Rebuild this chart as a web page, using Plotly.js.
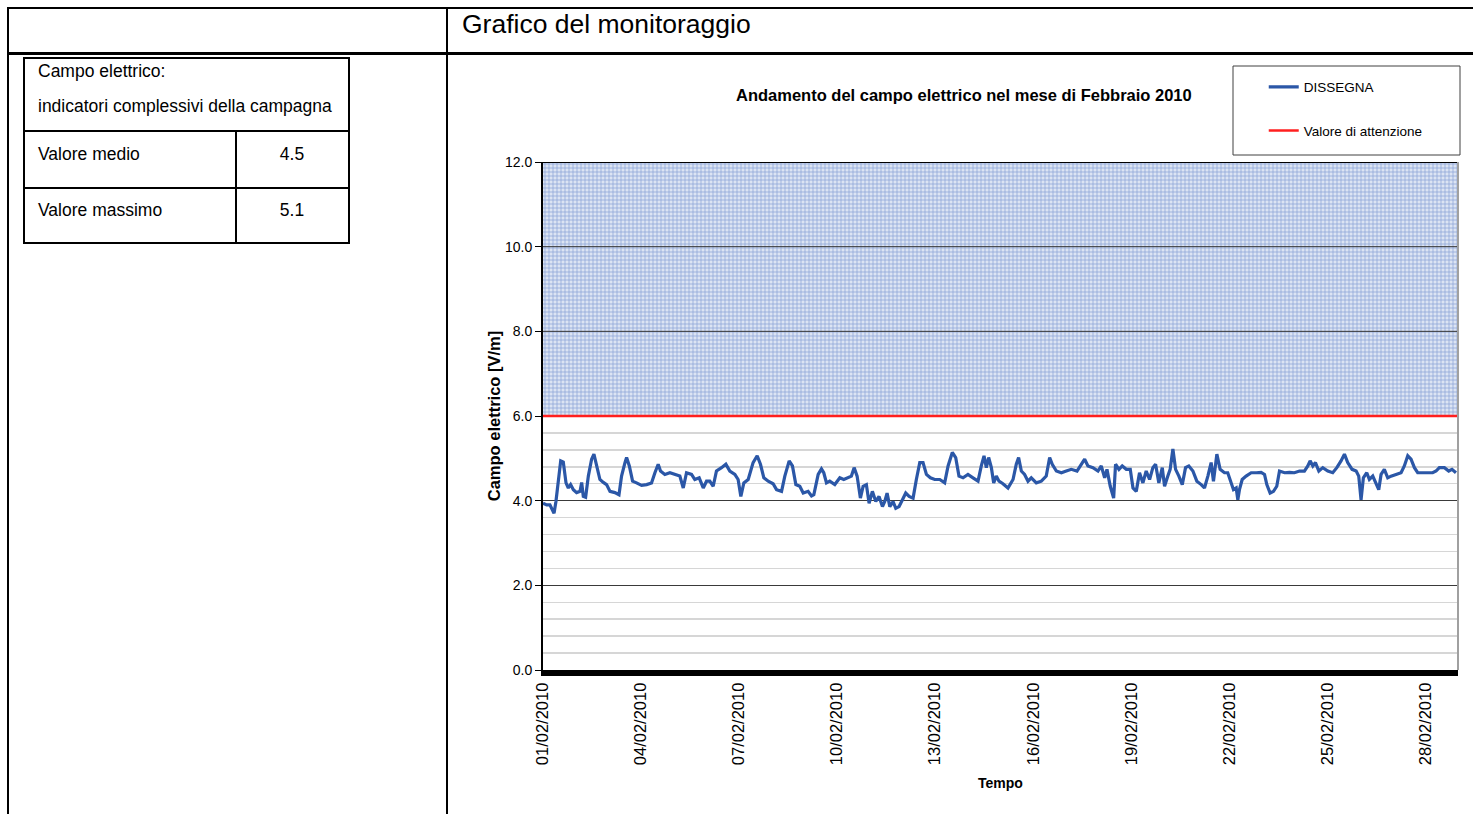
<!DOCTYPE html>
<html>
<head>
<meta charset="utf-8">
<script src="https://cdn.plot.ly/plotly-3.0.1.min.js"></script>
<style>
  html, body { margin:0; padding:0; background:#fff; }
  #wrap { position:relative; width:1473px; height:814px; overflow:hidden; }
  #chart { position:absolute; left:0; top:0; width:1473px; height:814px; }
  #overlay { position:absolute; left:0; top:0; width:1473px; height:814px; pointer-events:none; z-index:10;
             font-family:'Liberation Sans', Arial, sans-serif; color:#000; }
  .ln { position:absolute; background:#000; }
  .tx { position:absolute; white-space:nowrap; transform:translateY(-50%); font-size:17.5px; }
  .c { transform:translate(-50%,-50%); }
</style>
</head>
<body>
<div id="wrap">
  <div id="chart"></div>
  <div id="overlay">
    <!-- page frame -->
    <div class="ln" style="left:7px; top:7px; width:1466px; height:2px;"></div>
    <div class="ln" style="left:7px; top:52px; width:1466px; height:3px;"></div>
    <div class="ln" style="left:7px; top:7px; width:2px; height:807px;"></div>
    <div class="ln" style="left:446px; top:7px; width:2px; height:807px;"></div>
    <div class="tx" style="left:462px; top:24px; font-size:26.5px;">Grafico del monitoraggio</div>
    <!-- summary table -->
    <div class="ln" style="left:23px; top:57px; width:327px; height:2px;"></div>
    <div class="ln" style="left:23px; top:242px; width:327px; height:2px;"></div>
    <div class="ln" style="left:23px; top:57px; width:2px; height:187px;"></div>
    <div class="ln" style="left:348px; top:57px; width:2px; height:187px;"></div>
    <div class="ln" style="left:23px; top:130px; width:327px; height:2px;"></div>
    <div class="ln" style="left:23px; top:187px; width:327px; height:2px;"></div>
    <div class="ln" style="left:235px; top:130px; width:2px; height:113px;"></div>
    <div class="tx" id="t_h1" style="left:38px; top:71px;"></div>
    <div class="tx" id="t_h2" style="left:38px; top:106px;"></div>
    <div class="tx" id="t_r1" style="left:38px; top:154px;"></div>
    <div class="tx c" id="t_v1" style="left:292px; top:154px;"></div>
    <div class="tx" id="t_r2" style="left:38px; top:210px;"></div>
    <div class="tx c" id="t_v2" style="left:292px; top:210px;"></div>
  </div>
</div>
<script>
// ---- summary table ----
const tableHeader = ["Campo elettrico:", "indicatori complessivi della campagna"];
const tableLabels = ["Valore medio", "Valore massimo"];
const tableValues = ["4.5", "5.1"];

// ---- series: hours since 01/02/2010 00:00 and electric field [V/m] ----
const hours = [0, 2.7, 5.1, 8.1, 9.5, 11.3, 13.0, 14.9, 16.9, 18.6, 20.3, 22.3, 24.7, 27.2, 28.4, 29.6, 31.3, 33.3, 35.7, 37.4,
  39.4, 41.8, 44.3, 46.7, 49.2, 52.8, 55.8, 57.7, 60.2, 61.4, 63.4, 65.8, 68.7, 72.4, 76.1, 79.7, 82.2, 84.6, 86.3, 89.5,
  93.2, 96.9, 100.5, 103.0, 105.4, 109.1, 111.5, 114.7, 117.7, 120.1, 122.5, 125.0, 127.4, 131.1, 134.3, 137.2, 140.9, 143.3, 145.3, 147.5,
  150.7, 154.3, 157.3, 159.7, 162.2, 165.4, 169.0, 171.5, 175.2, 177.6, 180.8, 183.2, 185.7, 188.6, 191.1, 194.7, 197.2, 198.9, 202.1, 204.5,
  206.2, 208.2, 210.6, 214.3, 218.0, 220.9, 224.1, 226.5, 228.5, 230.7, 233.1, 235.1, 237.5, 239.5, 241.9, 244.4, 246.8, 249.3, 251.0, 252.7,
  254.7, 257.1, 259.1, 261.5, 264.0, 266.4, 268.9, 271.8, 274.2, 276.7, 279.1, 281.6, 284.5, 287.7, 291.4, 295.0, 297.5, 300.6, 303.1, 305.5,
  308.5, 312.1, 315.8, 319.5, 321.9, 323.9, 325.6, 327.3, 329.3, 331.0, 332.9, 334.9, 337.8, 341.5, 345.2, 347.6, 349.3, 351.3, 353.7, 356.2,
  358.6, 362.3, 366.0, 369.6, 372.1, 374.0, 377.0, 380.7, 384.3, 388.0, 392.2, 395.3, 397.8, 400.2, 403.9, 407.6, 410.0, 412.5, 414.2, 416.6,
  419.1, 420.5, 423.0, 425.4, 428.4, 431.3, 433.3, 435.7, 438.1, 440.6, 443.0, 445.5, 447.9, 449.9, 452.3, 454.8, 456.5, 458.9, 460.6, 462.6,
  464.6, 467.0, 469.5, 471.9, 474.3, 477.3, 480.2, 483.4, 485.8, 488.3, 490.7, 492.4, 494.9, 497.3, 500.5, 502.9, 505.4, 507.1, 509.1, 510.3,
  511.5, 513.5, 516.4, 520.1, 523.8, 527.4, 529.9, 531.6, 534.0, 536.5, 538.9, 540.9, 544.6, 548.2, 551.9, 555.6, 559.2, 561.7, 563.4, 565.4,
  567.3, 569.8, 572.7, 576.4, 580.0, 583.0, 586.1, 588.6, 591.0, 594.2, 597.2, 599.1, 600.8, 602.5, 605.0, 606.9, 609.4, 611.8, 613.8, 615.5,
  617.9, 620.4, 622.8, 626.5, 630.2, 632.6, 635.1, 637.5, 640.0, 642.4, 646.1, 649.7, 653.4, 655.9, 658.3, 662.0, 665.2, 667.6, 670.5];
const dissegna = [3.94, 3.90, 3.90, 3.70, 3.98, 4.50, 4.94, 4.91, 4.42, 4.30, 4.38, 4.26, 4.19, 4.22, 4.43, 4.10, 4.08, 4.58, 4.98, 5.10,
  4.82, 4.50, 4.43, 4.38, 4.22, 4.19, 4.14, 4.58, 4.90, 5.02, 4.82, 4.46, 4.42, 4.36, 4.38, 4.42, 4.66, 4.86, 4.70, 4.62,
  4.66, 4.62, 4.58, 4.30, 4.66, 4.62, 4.50, 4.54, 4.30, 4.46, 4.46, 4.34, 4.70, 4.78, 4.86, 4.70, 4.62, 4.50, 4.10, 4.42,
  4.50, 4.90, 5.06, 4.86, 4.54, 4.46, 4.40, 4.26, 4.22, 4.58, 4.94, 4.82, 4.38, 4.34, 4.18, 4.22, 4.11, 4.14, 4.62, 4.75,
  4.66, 4.42, 4.46, 4.38, 4.54, 4.50, 4.54, 4.58, 4.78, 4.58, 4.06, 4.34, 4.38, 3.94, 4.22, 3.98, 4.10, 3.86, 3.98, 4.18,
  3.86, 3.98, 3.82, 3.86, 4.02, 4.18, 4.10, 4.06, 4.50, 4.90, 4.90, 4.62, 4.54, 4.50, 4.50, 4.42, 4.82, 5.14, 5.02, 4.58,
  4.54, 4.62, 4.54, 4.46, 4.82, 5.06, 4.78, 5.02, 4.78, 4.42, 4.58, 4.46, 4.40, 4.30, 4.50, 4.86, 5.02, 4.70, 4.62, 4.46,
  4.54, 4.42, 4.46, 4.58, 5.02, 4.86, 4.70, 4.66, 4.70, 4.74, 4.70, 4.86, 4.98, 4.82, 4.78, 4.70, 4.82, 4.54, 4.74, 4.34,
  4.06, 4.86, 4.74, 4.82, 4.74, 4.74, 4.30, 4.22, 4.66, 4.42, 4.70, 4.50, 4.78, 4.86, 4.42, 4.78, 4.34, 4.58, 4.74, 5.22,
  4.74, 4.58, 4.38, 4.78, 4.82, 4.70, 4.46, 4.38, 4.30, 4.58, 4.90, 4.46, 5.10, 4.74, 4.66, 4.66, 4.40, 4.26, 4.30, 4.02,
  4.26, 4.50, 4.58, 4.66, 4.66, 4.67, 4.62, 4.38, 4.18, 4.22, 4.34, 4.70, 4.66, 4.67, 4.66, 4.70, 4.70, 4.82, 4.94, 4.82,
  4.90, 4.70, 4.78, 4.70, 4.66, 4.78, 4.94, 5.10, 4.90, 4.74, 4.70, 4.58, 4.02, 4.54, 4.66, 4.50, 4.58, 4.42, 4.26, 4.62,
  4.74, 4.54, 4.58, 4.62, 4.66, 4.82, 5.06, 4.98, 4.78, 4.66, 4.66, 4.66, 4.66, 4.70, 4.78, 4.78, 4.70, 4.74, 4.66];

const periodStart = "2010-02-01 00:00";
const periodEnd = "2010-03-01 00:00";
const valoreAttenzione = 6.0;
const areaTop = 12.0;
const yTicks = [0, 2, 4, 6, 8, 10, 12];

const chartTitle = "Andamento del campo elettrico nel mese di Febbraio 2010";
const xTitle = "Tempo";
const yTitle = "Campo elettrico [V/m]";
const seriesName = "DISSEGNA";
const limitName = "Valore di attenzione";

// fill table
document.getElementById('t_h1').textContent = tableHeader[0];
document.getElementById('t_h2').textContent = tableHeader[1];
document.getElementById('t_r1').textContent = tableLabels[0];
document.getElementById('t_r2').textContent = tableLabels[1];
document.getElementById('t_v1').textContent = tableValues[0];
document.getElementById('t_v2').textContent = tableValues[1];

function pad(n){ return (n < 10 ? '0' : '') + n; }
function hourToStr(h){
  const d = new Date(Date.UTC(2010, 1, 1) + Math.round(h * 3600000));
  return d.getUTCFullYear() + '-' + pad(d.getUTCMonth() + 1) + '-' + pad(d.getUTCDate()) + ' ' +
         pad(d.getUTCHours()) + ':' + pad(d.getUTCMinutes()) + ':' + pad(d.getUTCSeconds());
}
const times = hours.map(hourToStr);

const FONT = "'Liberation Sans', Arial, sans-serif";

const traces = [
  { // attention area (hatched)
    x: [periodStart, periodEnd, periodEnd, periodStart, periodStart],
    y: [valoreAttenzione, valoreAttenzione, areaTop, areaTop, valoreAttenzione],
    type: 'scatter', mode: 'lines', fill: 'toself',
    line: { width: 0, color: 'rgba(0,0,0,0)' },
    fillcolor: '#e3e9f6',
    fillpattern: { shape: '+', fgcolor: '#87a0d6', bgcolor: '#dce4f3', size: 4, solidity: 0.32 },
    showlegend: false, hoverinfo: 'skip'
  },
  {
    x: times, y: dissegna, name: seriesName,
    type: 'scatter', mode: 'lines',
    line: { color: '#2b57a7', width: 3.2 },
    legendgroup: 'a'
  },
  {
    x: [periodStart, periodEnd], y: [valoreAttenzione, valoreAttenzione], name: limitName,
    type: 'scatter', mode: 'lines',
    line: { color: '#ff1f1f', width: 2.5 },
    legendgroup: 'b'
  }
];

const layout = {
  width: 1473, height: 814,
  margin: { l: 543, r: 15, t: 162, b: 144 },
  paper_bgcolor: 'rgba(0,0,0,0)', plot_bgcolor: '#ffffff',
  font: { family: FONT, color: '#000', size: 14 },
  showlegend: true,
  legend: {
    x: 0.7877, y: 1.178, xanchor: 'left', yanchor: 'top',
    bgcolor: 'rgba(0,0,0,0)', borderwidth: 0,
    font: { family: FONT, size: 13.5, color: '#000' },
    tracegroupgap: 23, itemwidth: 30
  },
  annotations: [
    { text: '<b>' + chartTitle + '</b>', xref: 'paper', yref: 'paper',
      x: (964 - 543) / 915, y: (670 - 95) / 508, xanchor: 'center', yanchor: 'middle',
      showarrow: false, font: { family: FONT, size: 16.5, color: '#000' } }
  ],
  shapes: [
    // legend box
    { type: 'rect', xref: 'paper', yref: 'paper',
      x0: (1233 - 543) / 915, x1: (1460 - 543) / 915, y0: (670 - 155) / 508, y1: (670 - 66) / 508,
      line: { color: '#404040', width: 1 }, fillcolor: 'rgba(0,0,0,0)' },
    // top border of the attention area
    { type: 'line', xref: 'paper', yref: 'y', x0: 0, x1: 1, y0: areaTop, y1: areaTop,
      line: { color: '#000', width: 2 }, layer: 'above' },
    // major grid lines over the hatch
    { type: 'line', xref: 'paper', yref: 'y', x0: 0, x1: 1, y0: 8, y1: 8, line: { color: '#333', width: 1 }, layer: 'above' },
    { type: 'line', xref: 'paper', yref: 'y', x0: 0, x1: 1, y0: 10, y1: 10, line: { color: '#333', width: 1 }, layer: 'above' },
    // right border
    { type: 'line', xref: 'paper', yref: 'paper', x0: 1, x1: 1, y0: 0, y1: 1, line: { color: '#a0a0a0', width: 2 } }
  ],
  xaxis: {
    type: 'date', range: [periodStart, periodEnd],
    tick0: periodStart, dtick: 3 * 86400000, tickformat: '%d/%m/%Y',
    tickangle: -90, ticks: '', showgrid: false, zeroline: false,
    showline: true, linecolor: '#000', linewidth: 6,
    tickfont: { family: FONT, size: 16.5, color: '#000' },
    title: { text: '<b>' + xTitle + '</b>', font: { family: FONT, size: 14, color: '#000' }, standoff: 16 },
    automargin: false, fixedrange: true
  },
  yaxis: {
    range: [0, 12], tickvals: yTicks, tickformat: '.1f',
    ticks: 'outside', ticklen: 6, tickcolor: '#000', tickwidth: 1,
    showline: true, linecolor: '#000', linewidth: 2,
    showgrid: true, gridcolor: '#3a3a3a', gridwidth: 1, zeroline: false,
    minor: { dtick: 0.4, showgrid: true, gridcolor: '#d6d6d6', gridwidth: 1.5, ticks: '' },
    tickfont: { family: FONT, size: 14, color: '#000' },
    title: { text: '<b>' + yTitle + '</b>', font: { family: FONT, size: 16.5, color: '#000' }, standoff: 0 },
    automargin: false, fixedrange: true
  }
};

Plotly.newPlot('chart', traces, layout, { displayModeBar: false, staticPlot: true });
</script>
</body>
</html>
